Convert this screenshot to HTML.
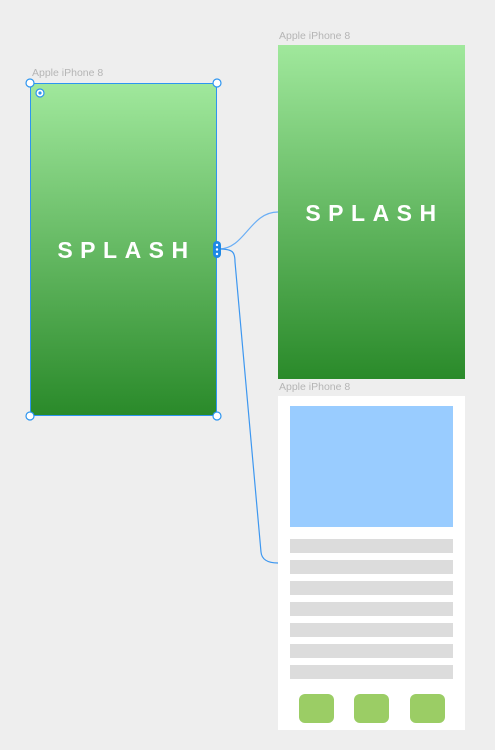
<!DOCTYPE html>
<html><head><style>
body{margin:0;width:495px;height:750px;background:#eeeeee;position:relative;overflow:hidden;font-family:"Liberation Sans",sans-serif}
.lbl{position:absolute;font-size:10.5px;color:#b5b5b5}
.ab{position:absolute;background:linear-gradient(#a0e89c,#2a8a2a)}
.sp{position:absolute;color:#fff;font-weight:bold;font-size:23px;letter-spacing:7.5px;text-align:center;width:100%}
.bar{position:absolute;left:290px;width:163px;height:14px;background:#dcdcdc}
.btn{position:absolute;top:694px;width:35px;height:29px;border-radius:6px;background:#9bcd65}
</style></head><body>
<div class="lbl" style="left:32px;top:67px">Apple iPhone 8</div>
<div class="lbl" style="left:279px;top:30px">Apple iPhone 8</div>
<div class="lbl" style="left:279px;top:381px">Apple iPhone 8</div>
<div class="ab" style="left:30px;top:83px;width:187px;height:333px;box-sizing:border-box;border:1px solid #2d95f0"><div class="sp" style="top:153px;left:3px">SPLASH</div></div>
<div class="ab" style="left:278px;top:45px;width:187px;height:334px"><div class="sp" style="top:155px;left:3px">SPLASH</div></div>
<div style="position:absolute;left:278px;top:396px;width:187px;height:334px;background:#fff"></div>
<div style="position:absolute;left:290px;top:406px;width:163px;height:121px;background:#99ccff"></div>
<div class="bar" style="top:539px"></div><div class="bar" style="top:560px"></div><div class="bar" style="top:581px"></div><div class="bar" style="top:602px"></div><div class="bar" style="top:623px"></div><div class="bar" style="top:644px"></div><div class="bar" style="top:665px"></div>
<div class="btn" style="left:299px"></div><div class="btn" style="left:354px"></div><div class="btn" style="left:410px"></div>
<svg width="495" height="750" style="position:absolute;left:0;top:0">
<path d="M219 249 C245 249 250 212 278 212" fill="none" stroke="#6aaef5" stroke-width="1.2"/>
<path d="M219 249 C233 249 235 252 235 262 L261 552 Q262 563 278 563" fill="none" stroke="#3d97f0" stroke-width="1.2"/>
<g fill="#fff" stroke="#2d95f0" stroke-width="1.2">
<circle cx="30" cy="83" r="4"/><circle cx="217" cy="83" r="4"/><circle cx="30" cy="416" r="4"/><circle cx="217" cy="416" r="4"/>
<circle cx="40" cy="93" r="4"/></g>
<circle cx="40" cy="93" r="1.6" fill="#2d95f0"/>
<rect x="213" y="241" width="8" height="17" rx="4" fill="#1e88e5"/>
<g fill="#fff"><circle cx="217" cy="245" r="1.2"/><circle cx="217" cy="249.5" r="1.2"/><circle cx="217" cy="254" r="1.2"/></g>
</svg>
</body></html>
